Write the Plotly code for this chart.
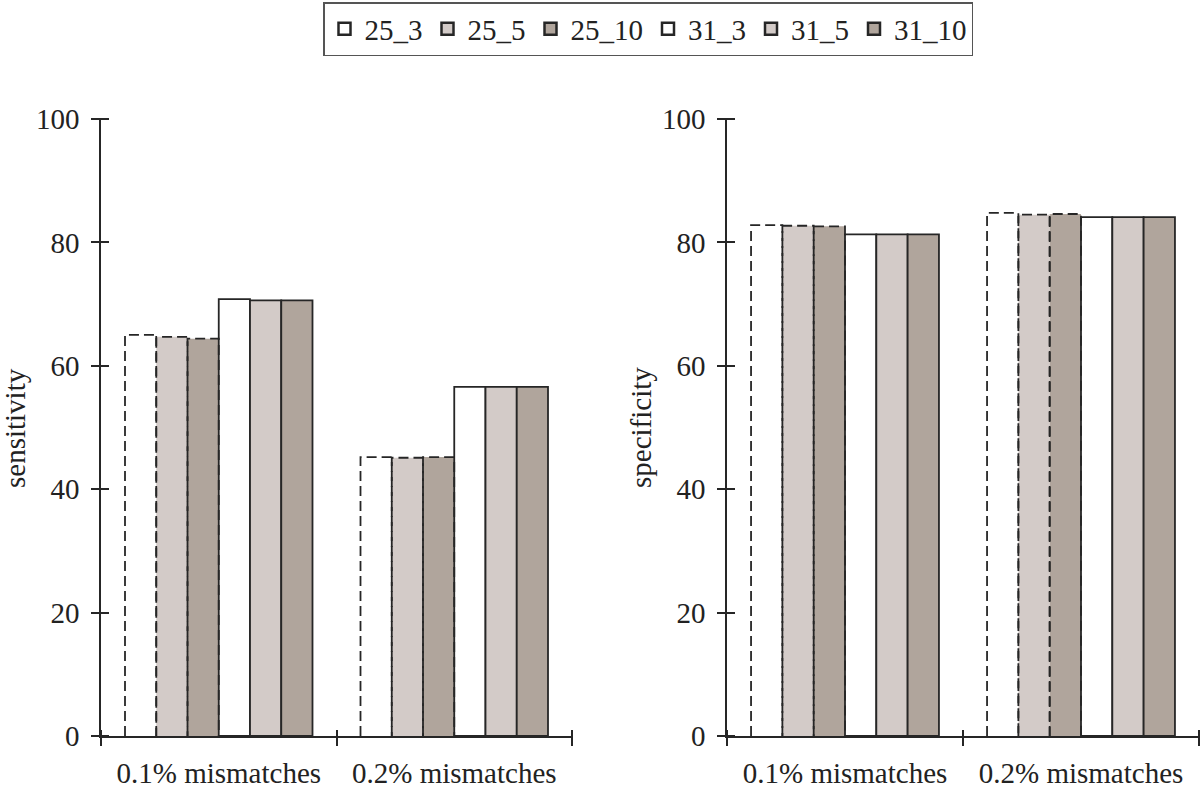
import plotly.graph_objects as go

categories = ["0.1% mismatches", "0.2% mismatches"]
series_names = ["25_3", "25_5", "25_10", "31_3", "31_5", "31_10"]
sensitivity = {
    "25_3": [65.0, 45.2],
    "25_5": [64.7, 45.1],
    "25_10": [64.4, 45.2],
    "31_3": [70.8, 56.6],
    "31_5": [70.6, 56.6],
    "31_10": [70.6, 56.6],
}
specificity = {
    "25_3": [82.8, 84.8],
    "25_5": [82.7, 84.5],
    "25_10": [82.6, 84.6],
    "31_3": [81.3, 84.1],
    "31_5": [81.3, 84.1],
    "31_10": [81.3, 84.1],
}
y_ticks = [0, 20, 40, 60, 80, 100]

fills = {"25_3": "#ffffff", "25_5": "#d3cbc8", "25_10": "#b0a59c",
         "31_3": "#ffffff", "31_5": "#d3cbc8", "31_10": "#b0a59c"}
dashed = {"25_3", "25_5", "25_10"}
EDGE = "#262626"
FONT = "Liberation Serif"
FS = 29
BW = 0.1327
W, H = 1200, 787

fig = go.Figure()


def add_panel(data, xa, ya):
    cat_idx = list(range(len(categories)))
    for i, name in enumerate(series_names):
        xs = [c + (i - 2.5) * BW for c in cat_idx]
        vals = data[name]
        is_d = name in dashed
        fig.add_trace(go.Bar(
            x=xs, y=vals, width=BW, xaxis=xa, yaxis=ya,
            marker=dict(color=fills[name],
                        line=dict(color=EDGE, width=0 if is_d else 1.8)),
            showlegend=False, hoverinfo="skip"))
    for i, name in enumerate(series_names):
        if name not in dashed:
            continue
        vals = data[name]
        px, py = [], []
        for c, v in zip(cat_idx, vals):
            xc = c + (i - 2.5) * BW
            xl, xr = xc - BW / 2, xc + BW / 2
            px += [xl, xl, xr, xr, None]
            py += [0, v, v, 0, None]
        fig.add_trace(go.Scatter(
            x=px, y=py, mode="lines", xaxis=xa, yaxis=ya,
            line=dict(color=EDGE, width=1.8, dash="10px,5px"),
            showlegend=False, hoverinfo="skip"))


add_panel(sensitivity, "x", "y")
add_panel(specificity, "x2", "y2")

# legend entries
for name in series_names:
    fig.add_trace(go.Bar(
        x=[None], y=[None], name=name,
        marker=dict(color=fills[name], line=dict(color=EDGE, width=2.5))))

XR = [-0.5, len(categories) - 0.5]
bounds = [b - 0.5 for b in range(len(categories) + 1)]

# invisible anchor traces so the extra tick axes get drawn
for xa, ya in [("x3", "y"), ("x", "y3"), ("x4", "y2"), ("x2", "y4")]:
    fig.add_trace(go.Scatter(x=[XR[0]], y=[y_ticks[0]], xaxis=xa, yaxis=ya,
                             mode="markers", marker=dict(opacity=0, size=1),
                             showlegend=False, hoverinfo="skip"))

ydom = [51 / H, 1 - 119 / H]
dom1 = [101 / W, 572 / W]
dom2 = [727 / W, 1199 / W]
TK = 8  # half length of crossing ticks

tickfont = dict(family=FONT, size=FS, color="#222")

def xaxis_main(dom, anchor):
    return dict(domain=dom, anchor=anchor, range=XR, showgrid=False, zeroline=False,
                showline=True, linecolor=EDGE, linewidth=1.6,
                tickvals=list(range(len(categories))), ticktext=categories,
                ticks="outside", ticklen=10, tickcolor="rgba(0,0,0,0)",
                tickfont=tickfont, automargin=False, fixedrange=True)

def xaxis_cross(over):
    # free axis placed slightly above the main axis line: outside ticks cross the line
    return dict(overlaying=over, anchor="free", position=ydom[0] + (TK - 1) / H,
                range=XR, showgrid=False, zeroline=False, showline=False,
                tickvals=bounds, ticks="outside", ticklen=2 * TK, tickcolor=EDGE,
                tickwidth=1.6, showticklabels=False, automargin=False, fixedrange=True)

def yaxis_main(anchor):
    return dict(domain=ydom, anchor=anchor, range=[0, 100], showgrid=False,
                zeroline=False, showline=True, linecolor=EDGE, linewidth=1.6,
                tickvals=y_ticks, ticks="outside", ticklen=TK, tickcolor=EDGE,
                tickwidth=1.6, tickfont=tickfont, ticklabelstandoff=6,
                automargin=False, fixedrange=True)

def yaxis_cross(over, dom):
    return dict(overlaying=over, anchor="free", position=dom[0] + TK / W,
                range=[0, 100], showgrid=False, zeroline=False, showline=False,
                tickvals=y_ticks, ticks="outside", ticklen=2 * TK, tickcolor=EDGE,
                tickwidth=1.6, showticklabels=False, automargin=False, fixedrange=True)

fig.update_layout(
    width=W, height=H,
    margin=dict(l=0, r=0, t=0, b=0),
    paper_bgcolor="white", plot_bgcolor="rgba(0,0,0,0)",
    barmode="overlay",
    font=dict(family=FONT, size=FS, color="#222"),
    xaxis=xaxis_main(dom1, "y"),
    yaxis=yaxis_main("x"),
    xaxis2=xaxis_main(dom2, "y2"),
    yaxis2=yaxis_main("x2"),
    xaxis3=xaxis_cross("x"),
    yaxis3=yaxis_cross("y", dom1),
    xaxis4=xaxis_cross("x2"),
    yaxis4=yaxis_cross("y2", dom2),
    legend=dict(orientation="h", x=648 / W, xanchor="center",
                y=1 - 2 / H, yanchor="top",
                bgcolor="white", bordercolor="#555", borderwidth=1.5,
                font=dict(family=FONT, size=FS, color="#222"),
                itemclick=False, itemdoubleclick=False),
    annotations=[
        dict(text="sensitivity", x=15 / W, y=1 - 428 / H, xref="paper", yref="paper",
             xanchor="center", yanchor="middle",
             textangle=-90, showarrow=False, font=dict(family=FONT, size=FS, color="#222")),
        dict(text="specificity", x=641 / W, y=1 - 428 / H, xref="paper", yref="paper",
             xanchor="center", yanchor="middle",
             textangle=-90, showarrow=False, font=dict(family=FONT, size=FS, color="#222")),
    ],
)

fig.write_html("out.html", config={"displayModeBar": False},
               post_script="document.body.style.margin='0';document.body.style.overflow='hidden';")
